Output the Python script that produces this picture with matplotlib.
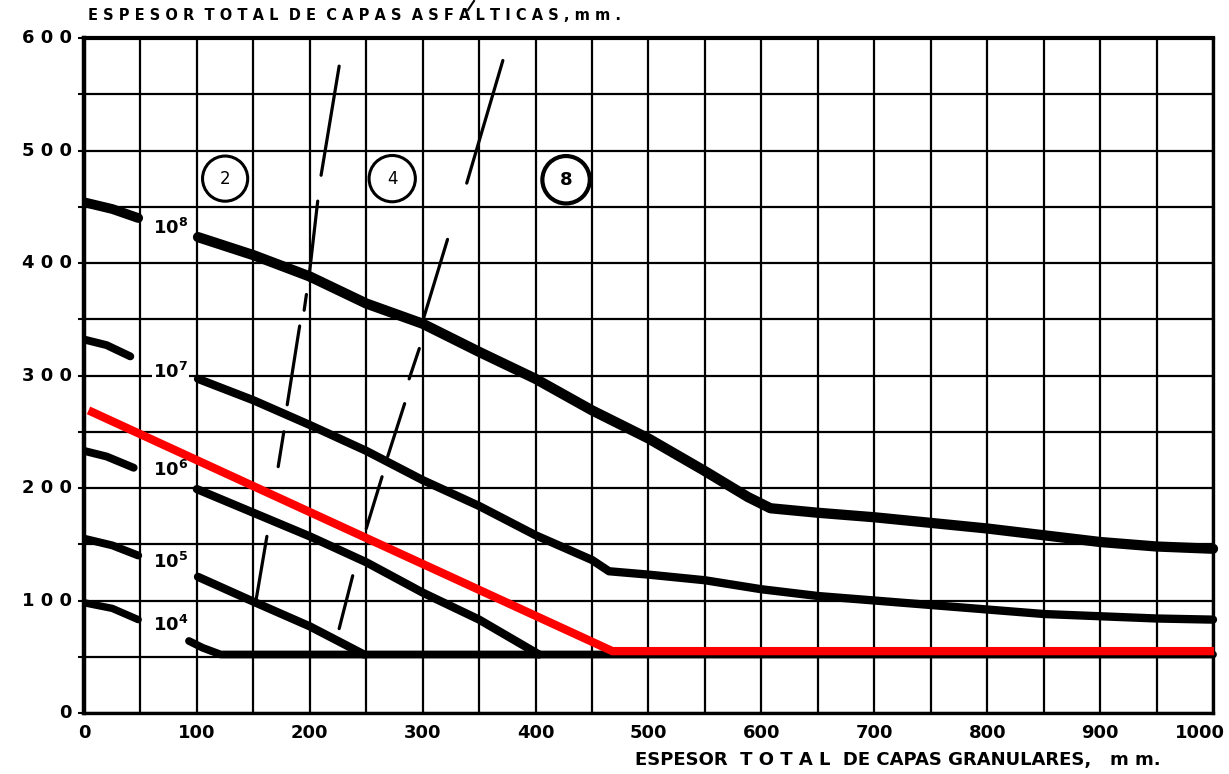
import matplotlib
matplotlib.use("Agg")
import matplotlib.pyplot as plt
from matplotlib.patches import Ellipse
from matplotlib.lines import Line2D
from matplotlib.transforms import blended_transform_factory, offset_copy

# ---------------------------------------------------------------------------
# Design curves: total asphalt thickness (mm) vs. total granular thickness (mm)
# for traffic levels 10^4 ... 10^8 equivalent axles.
# ---------------------------------------------------------------------------
traffic_exponents = [8, 7, 6, 5, 4]

# short lead-in pieces at the left edge (before the curve label)
lead_x = [[0, 25, 48], [0, 20, 41], [0, 20, 44], [0, 25, 48], [0, 25, 48]]
lead_y = [[454, 448, 440], [332, 327, 317], [233, 228, 218], [155, 149, 140], [98, 93, 83]]

# main body of each curve (after the label)
e8_x = [101, 150, 200, 250, 300, 350, 400, 450, 500, 550, 588, 608, 650, 700, 750, 800, 850, 900, 950, 1000]
e8_y = [423, 407, 388, 364, 346, 321, 297, 269, 244, 215, 192, 182, 178, 174, 169, 164, 158, 152, 148, 146]

e7_x = [101, 150, 200, 250, 300, 350, 400, 450, 465, 500, 550, 600, 650, 700, 750, 800, 850, 900, 950, 1000]
e7_y = [297, 278, 256, 233, 207, 184, 158, 136, 126, 123, 118, 110, 104, 100, 96, 92, 88, 86, 84, 83]

e6_x = [100, 150, 200, 250, 300, 350, 403]
e6_y = [199, 178, 157, 134, 107, 83, 52]

e5_x = [101, 150, 200, 248]
e5_y = [121, 99, 77, 52]

# 10^4 curve runs into the 50 mm minimum line
e4_x = [93, 105, 121, 1000]
e4_y = [64, 58, 52, 52]

main_x = [e8_x, e7_x, e6_x, e5_x, e4_x]
main_y = [e8_y, e7_y, e6_y, e5_y, e4_y]
main_lw = [7.4, 6.0, 6.0, 6.0, 5.6]

# label anchor (mm) for each traffic curve
label_y = [431, 303, 216, 134, 78]

# red design line
red_x = [4, 468, 1001]
red_y = [269, 55, 55]

# broken boundary lines between zones (each entry: x0, y0, x1, y1)
boundary_a = [(226, 575, 210, 478), (207, 455, 199, 385), (197, 372, 195, 358),
              (191, 344, 180, 274), (177, 250, 172, 219), (162, 157, 152, 98)]
boundary_b = [(371, 580, 339, 471), (322, 421, 299, 345), (297, 324, 288, 297),
              (284, 275, 269, 228), (264, 210, 250, 164), (238, 122, 226, 75)]

# circled zone numbers
zone_labels = ["2", "4", "8"]
zone_x = [125, 273, 427]
zone_y = [475, 475, 474]
zone_r = [20, 20.5, 21]

x_ticks = list(range(0, 1001, 100))
y_ticks = list(range(0, 601, 100))
y_tick_text = ["0", "1 0 0", "2 0 0", "3 0 0", "4 0 0", "5 0 0", "6 0 0"]

# ---------------------------------------------------------------------------
W, H = 1229, 774
fig = plt.figure(figsize=(W / 100, H / 100), dpi=100)
fig.patch.set_facecolor("white")
ax = fig.add_axes([84 / W, 1 - 713 / H, 1129 / W, 675 / H])
ax.set_xlim(0, 1000)
ax.set_ylim(0, 600)
ax.set_axisbelow(True)

# 50 mm grid
ax.set_xticks(range(0, 1001, 50))
ax.set_yticks(range(0, 601, 50))
ax.grid(True, color="black", linewidth=1.6)
ax.tick_params(axis="x", length=0, labelbottom=False)
ax.tick_params(axis="y", length=4, width=1.5, direction="out", labelleft=False)
for side, lw in [("left", 3.2), ("top", 3.0), ("right", 2.4), ("bottom", 2.4)]:
    ax.spines[side].set_linewidth(lw)
    ax.spines[side].set_color("black")

# traffic curves
for k, exp in enumerate(traffic_exponents):
    ax.plot(lead_x[k], lead_y[k], color="black", lw=main_lw[k] * 0.95,
            solid_capstyle="round", solid_joinstyle="round", zorder=4)
    ax.plot(main_x[k], main_y[k], color="black", lw=main_lw[k],
            solid_capstyle="round", solid_joinstyle="round", zorder=4,
            clip_on=False)
    ax.text(61, label_y[k], r"$\mathbf{10^{%d}}$" % exp, fontsize=13,
            ha="left", va="center", zorder=6,
            bbox=dict(boxstyle="square,pad=0.05", fc="white", ec="none"))

# zone boundaries
for seg in boundary_a + boundary_b:
    ax.plot([seg[0], seg[2]], [seg[1], seg[3]], color="black", lw=2.3,
            solid_capstyle="round", zorder=5)

# circled zone numbers
for lab, zx, zy, zr in zip(zone_labels, zone_x, zone_y, zone_r):
    bold = lab == "8"
    ax.add_patch(Ellipse((zx, zy), 2 * zr, 2 * zr * 1129 / 1125,
                         facecolor="white", edgecolor="black",
                         lw=3.0 if bold else 2.2, zorder=5))
    ax.text(zx, zy, lab, fontsize=13 if bold else 12,
            fontweight="heavy" if bold else "normal",
            ha="center", va="center", zorder=6)

# red design line
ax.plot(red_x, red_y, color="#ff0000", lw=6.0, solid_capstyle="butt",
        solid_joinstyle="miter", zorder=7, clip_on=False)

# axis numbers
ytrans = blended_transform_factory(ax.transAxes, ax.transData)
for v, t in zip(y_ticks, y_tick_text):
    ax.text(-0.011, v, t, transform=ytrans, fontsize=13, fontweight="bold",
            ha="right", va="center")
xtrans = offset_copy(blended_transform_factory(ax.transData, ax.transAxes),
                     fig=fig, x=0, y=-20, units="dots")
for v in x_ticks:
    if v == 1000:
        ax.text(v, 0, str(v), transform=offset_copy(xtrans, fig=fig, x=12, y=0, units="dots"),
                fontsize=13, fontweight="bold", ha="right", va="center")
    else:
        ax.text(v, 0, str(v), transform=xtrans, fontsize=13, fontweight="bold",
                ha="center", va="center")

# axis titles
fig.text(88 / W, 1 - 16 / H,
         "E S P E S O R  T O T A L  D E  C A P A S  A S F A L T I C A S , m m .",
         fontsize=10.5, fontweight="bold", ha="left", va="center")
fig.text(635 / W, 1 - 760 / H,
         "ESPESOR  T O T A L  DE CAPAS GRANULARES,   m m.",
         fontsize=13, fontweight="heavy", ha="left", va="center")

# small stray stroke above the frame
fig.add_artist(Line2D([468 / W, 474 / W], [1 - 10 / H, 1 - 1 / H],
                      color="black", lw=1.5, transform=fig.transFigure))

fig.savefig("out.png", dpi=100, facecolor="white")
